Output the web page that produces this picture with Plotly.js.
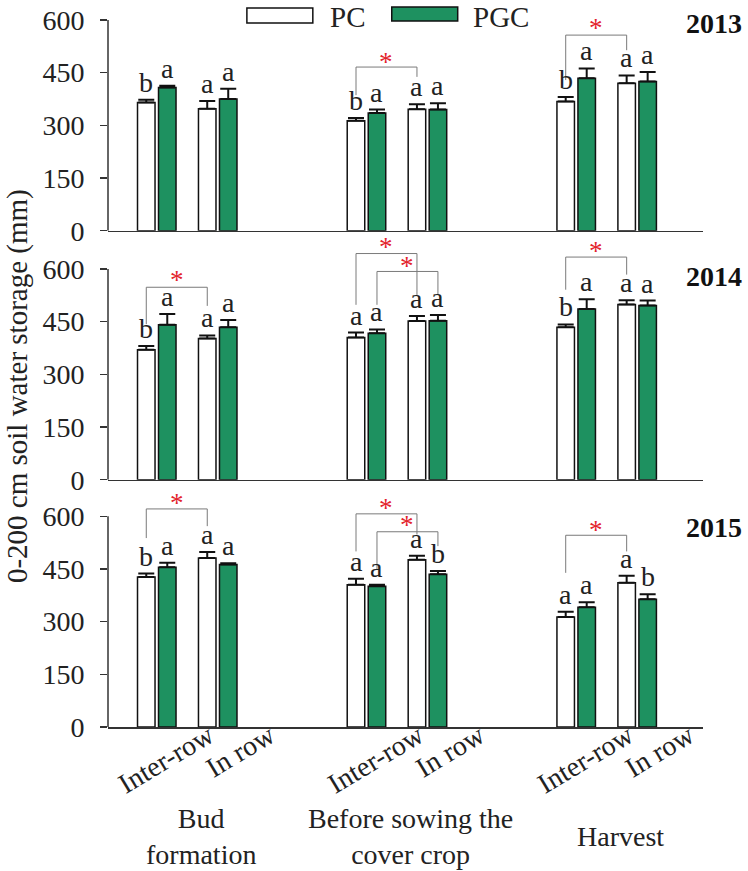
<!DOCTYPE html>
<html><head><meta charset="utf-8">
<script src="https://cdn.plot.ly/plotly-3.0.1.min.js"></script>
<style>html,body{margin:0;padding:0;background:#fff}</style>
</head><body><div id="chart" style="width:748px;height:871px"></div>
<script>
// ---------- DATA ----------
const years = ['2013', '2014', '2015'];
const stages = ['Bud<br>formation', 'Before sowing the<br>cover crop', 'Harvest'];
const positions = ['Inter-row', 'In row'];
const seriesNames = ['PC', 'PGC'];
// order of 6 values: Bud inter-row, Bud in row, Before inter-row, Before in row, Harvest inter-row, Harvest in row
const pc2013 = [365, 347, 313, 346, 368, 420];
const pc2013Err = [8, 22, 8, 14, 13, 22];
const pgc2013 = [408, 375, 335, 345, 434, 425];
const pgc2013Err = [5, 29, 10, 18, 28, 27];
const pc2013Letters = ['b', 'a', 'b', 'a', 'b', 'a'];
const pgc2013Letters = ['a', 'a', 'a', 'a', 'a', 'a'];

const pc2014 = [370, 402, 405, 452, 434, 499];
const pc2014Err = [11, 9, 14, 14, 8, 12];
const pgc2014 = [441, 434, 417, 453, 486, 496];
const pgc2014Err = [31, 21, 11, 16, 28, 14];
const pc2014Letters = ['b', 'a', 'a', 'a', 'b', 'a'];
const pgc2014Letters = ['a', 'a', 'a', 'a', 'a', 'a'];

const pc2015 = [427, 481, 405, 476, 313, 411];
const pc2015Err = [10, 17, 17, 12, 15, 20];
const pgc2015 = [455, 463, 401, 435, 341, 364];
const pgc2015Err = [13, 3, 4, 9, 14, 14];
const pc2015Letters = ['b', 'a', 'a', 'a', 'a', 'a'];
const pgc2015Letters = ['a', 'a', 'a', 'b', 'a', 'b'];

// significance brackets (inter-row vs in row of the same series): y levels in mm
const brackets2013 = [
  {series: 'PC', stage: 1, top: 466, left: 386, right: 438, star: 481},
  {series: 'PC', stage: 2, top: 557, left: 429, right: 514, star: 576}
];
const brackets2014 = [
  {series: 'PC', stage: 0, top: 548, left: 443, right: 495, star: 568},
  {series: 'PC', stage: 1, top: 644, left: 498, right: 526, star: 662},
  {series: 'PGC', stage: 1, top: 593, left: 498, right: 526, star: 608},
  {series: 'PC', stage: 2, top: 634, left: 541, right: 584, star: 650}
];
const brackets2015 = [
  {series: 'PC', stage: 0, top: 621, left: 538, right: 572, star: 638},
  {series: 'PC', stage: 1, top: 607, left: 500, right: 548, star: 625},
  {series: 'PGC', stage: 1, top: 556, left: 448, right: 515, star: 574},
  {series: 'PC', stage: 2, top: 546, left: 439, right: 500, star: 562}
];

// ---------- STYLE / LAYOUT CONSTANTS ----------
const FONT = "'Liberation Serif', 'Times New Roman', serif";
const GREEN = '#1e9160';
const AXC = '#333333';
const STAGE_PERIOD = 3.44;
const HALF = 0.172;          // offset of a bar centre from its pair centre
const W = 748, H = 871;
const ML = 108, MR = 45, MT = 0, MB = 144;
const plotH = H - MT - MB;
const PXU = 210.7 / 600;     // px per mm
const zeros = [230.7, 479.7, 727];  // pixel rows of each panel's zero
const tops = [null, 690, 690];

const panelData = [
  {pc: pc2013, pcErr: pc2013Err, pgc: pgc2013, pgcErr: pgc2013Err, pcL: pc2013Letters, pgcL: pgc2013Letters, br: brackets2013, yearY: 590},
  {pc: pc2014, pcErr: pc2014Err, pgc: pgc2014, pgcErr: pgc2014Err, pcL: pc2014Letters, pgcL: pgc2014Letters, br: brackets2014, yearY: 578},
  {pc: pc2015, pcErr: pc2015Err, pgc: pgc2015, pgcErr: pgc2015Err, pcL: pc2015Letters, pgcL: pgc2015Letters, br: brackets2015, yearY: 568}
];

const xs = [];
stages.forEach((s, si) => positions.forEach((p, pi) => xs.push(si * STAGE_PERIOD + pi)));

const traces = [], annotations = [], shapes = [];
const layout = {
  width: W, height: H,
  margin: {l: ML, r: MR, t: MT, b: MB},
  paper_bgcolor: '#fff', plot_bgcolor: 'rgba(0,0,0,0)',
  barmode: 'group', bargap: 0.311, bargroupgap: 0.166,
  showlegend: false,
  font: {family: FONT, color: '#222'}
};

const xRange = [-0.80, 8.96];

panelData.forEach((pd, k) => {
  const sfx = k === 0 ? '' : String(k + 1);
  const xa = 'x' + sfx, ya = 'y' + sfx;
  const zeroPx = zeros[k];
  const bottom = (plotH - zeroPx) / plotH;
  let top, rTop;
  if (tops[k] === null) { top = 1; rTop = zeroPx / PXU; }
  else { rTop = tops[k]; top = bottom + rTop * PXU / plotH; }

  layout['xaxis' + sfx] = {
    domain: [0, 1], anchor: ya, range: xRange,
    showline: true, linecolor: AXC, linewidth: 1.5,
    ticks: '', showgrid: false, zeroline: false,
    showticklabels: k === 2,
    tickmode: 'array',
    tickvals: xs.map(v => v + 0.85),
    ticktext: xs.map((v, i) => positions[i % 2]),
    tickangle: -31,
    ticklabelstandoff: -20,
    tickfont: {family: FONT, size: 28, color: '#222'}
  };
  layout['yaxis' + sfx] = {
    domain: [bottom, Math.min(top, 1)], anchor: xa, range: [0, rTop],
    showline: false, showgrid: false, zeroline: false,
    ticks: 'outside', ticklen: 7, tickwidth: 1.5, tickcolor: AXC,
    tickmode: 'array', tickvals: [0, 150, 300, 450, 600],
    ticklabelstandoff: 10,
    tickfont: {family: FONT, size: 28, color: '#222'}
  };
  // y axis line from 0 to 600
  shapes.push({type: 'line', xref: 'paper', yref: ya, x0: 0, x1: 0, y0: 0, y1: 600,
    line: {color: AXC, width: 1.5}});

  const ser = [
    {name: 'PC', y: pd.pc, err: pd.pcErr, L: pd.pcL, color: '#ffffff'},
    {name: 'PGC', y: pd.pgc, err: pd.pgcErr, L: pd.pgcL, color: GREEN}
  ];
  ser.forEach((s, si) => {
    traces.push({
      type: 'bar', x: xs, y: s.y, name: s.name, xaxis: xa, yaxis: ya,
      marker: {color: s.color, line: {color: '#111', width: 1.5}},
      error_y: {type: 'data', array: s.err, arrayminus: s.err.map(() => 0), symmetric: false,
        color: '#111', thickness: 2, width: 8},
      hoverinfo: 'none'
    });
    const off = si === 0 ? -HALF : HALF;
    s.y.forEach((v, i) => {
      annotations.push({xref: xa, yref: ya, x: xs[i] + off, y: v + s.err[i],
        text: s.L[i], showarrow: false, yanchor: 'bottom', xanchor: 'center',
        font: {family: FONT, size: 28, color: '#222'}});
    });
  });

  pd.br.forEach(b => {
    const off = b.series === 'PC' ? -HALF : HALF;
    const xL = b.stage * STAGE_PERIOD + off;
    const xR = xL + 1;
    shapes.push({type: 'path', xref: xa, yref: ya,
      path: `M${xL},${b.left} L${xL},${b.top} L${xR},${b.top} L${xR},${b.right}`,
      line: {color: '#7a7a7a', width: 1}});
    annotations.push({xref: xa, yref: ya, x: (xL + xR) / 2, y: b.star, text: '*',
      showarrow: false, yanchor: 'middle', xanchor: 'center',
      font: {family: FONT, size: 27, color: '#e3232b'}});
  });

  annotations.push({xref: 'paper', yref: ya, x: 1.019, y: pd.yearY, text: '<b>' + years[k] + '</b>',
    showarrow: false, xanchor: 'center', yanchor: 'middle',
    font: {family: FONT, size: 28, color: '#111'}});
});

// stage labels below bottom axis
stages.forEach((s, si) => {
  annotations.push({xref: 'x3', yref: 'paper', x: si * STAGE_PERIOD + 0.5 + 0.22,
    y: (plotH - 836) / plotH, text: s, showarrow: false, xanchor: 'center', yanchor: 'middle',
    font: {family: FONT, size: 28, color: '#222'}});
});

// y-axis title
annotations.push({xref: 'paper', yref: 'paper', x: (17 - ML) / 595.5, y: (plotH - 386) / plotH,
  text: '0-200 cm soil water storage (mm)', textangle: -90, showarrow: false,
  xanchor: 'center', yanchor: 'middle', font: {family: FONT, size: 29, color: '#222'}});

// legend (drawn manually)
const px2x = p => (p - ML) / 595.5;
const py2y = p => (plotH - p) / plotH;
const legendItems = [
  {name: seriesNames[0], color: '#ffffff', x0: 247, x1: 313, y0: 8, y1: 23, tx: 328},
  {name: seriesNames[1], color: GREEN, x0: 392, x1: 458, y0: 7, y1: 21, tx: 471}
];
legendItems.forEach(it => {
  shapes.push({type: 'rect', xref: 'paper', yref: 'paper', x0: px2x(it.x0), x1: px2x(it.x1),
    y0: py2y(it.y1), y1: py2y(it.y0), fillcolor: it.color, line: {color: '#111', width: 1.5}});
  annotations.push({xref: 'paper', yref: 'paper', x: px2x(it.tx), y: py2y(17), text: it.name,
    showarrow: false, xanchor: 'left', yanchor: 'middle', font: {family: FONT, size: 29, color: '#222'}});
});

layout.shapes = shapes;
layout.annotations = annotations;
Plotly.newPlot('chart', traces, layout, {displayModeBar: false, staticPlot: true});
</script>
</body></html>
